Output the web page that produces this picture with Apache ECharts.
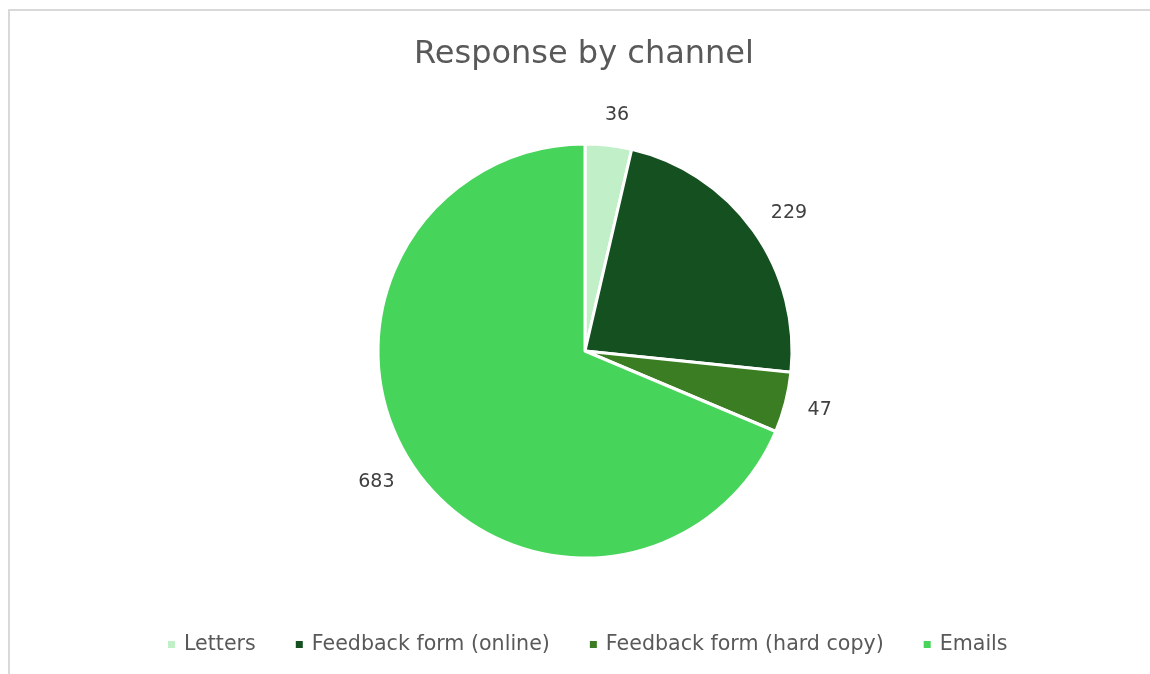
<!DOCTYPE html>
<html>
<head>
<meta charset="utf-8">
<script src="https://cdn.jsdelivr.net/npm/echarts@6/dist/echarts.min.js"></script>
<style>
html,body{margin:0;padding:0;background:#fff;}
#frame{position:absolute;left:8px;top:9px;width:1200px;height:700px;border:2px solid #d9d9d9;box-sizing:border-box;}
#chart{position:absolute;left:0;top:0;width:1150px;height:674px;}
</style>
</head>
<body>
<div id="frame"></div>
<div id="chart"></div>
<script>
const titleText = "Response by channel";
const categories = ["Letters", "Feedback form (online)", "Feedback form (hard copy)", "Emails"];
const values = [36, 229, 47, 683];
const colors = ["#C1F0C8", "#155020", "#3B7D23", "#47D45A"];

const chart = echarts.init(document.getElementById('chart'), null, {renderer:'canvas'});
const font = "'DejaVu Sans', 'Open Sans', sans-serif";
chart.setOption({
  animation: false,
  title: {
    text: titleText, left: 414, top: 39, padding: 0,
    textStyle: {fontFamily: font, fontSize: 32, fontWeight: 'normal', color: '#595959'}
  },
  color: colors,
  legend: {
    bottom: 19, left: 166, padding: 0,
    icon: 'rect', itemWidth: 9, itemHeight: 9, itemGap: 38,
    textStyle: {fontFamily: font, fontSize: 20.6, color: '#595959', padding: [0, 0, 0, 3]},
    data: categories
  },
  series: [{
    type: 'pie',
    center: [585, 351],
    radius: 207,
    startAngle: 90,
    clockwise: true,
    itemStyle: {borderColor: '#fff', borderWidth: 3},
    label: {
      show: true, position: 'outside', formatter: '{c}',
      fontFamily: font, fontSize: 19, color: '#404040',
      distanceToLabelLine: -7
    },
    labelLine: {show: false, length: 30, length2: 0},
    emphasis: {disabled: true},
    data: categories.map((c, i) => ({name: c, value: values[i]}))
  }]
});
</script>
</body>
</html>
